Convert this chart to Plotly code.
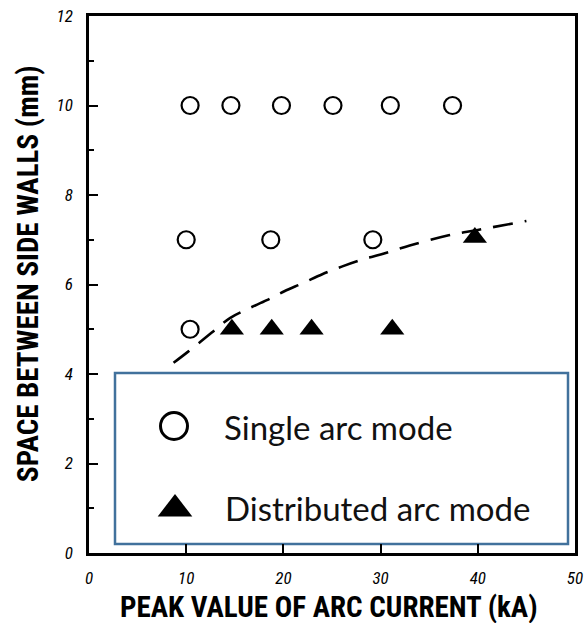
import plotly.graph_objects as go

# ---- data ----
single_x = [10.4, 14.6, 19.8, 25.1, 31.0, 37.4, 10.0, 18.7, 29.2, 10.4]
single_y = [10, 10, 10, 10, 10, 10, 7, 7, 7, 5]
dist_x = [14.7, 18.8, 22.9, 31.2, 39.7]
dist_y = [5, 5, 5, 5, 7.05]
curve_x = [8.7, 10.2, 12.6, 14.5, 16.3, 18.3, 20.1, 22.0, 24.0, 26.0, 28.0, 30.0, 33.0, 37.0, 40.0, 45.0]
curve_y = [4.25, 4.5, 4.92, 5.25, 5.45, 5.65, 5.85, 6.03, 6.23, 6.4, 6.55, 6.67, 6.87, 7.1, 7.22, 7.42]
x_ticks = [0, 10, 20, 30, 40, 50]
y_ticks = [0, 2, 4, 6, 8, 10, 12]
legend_labels = ["Single arc mode", "Distributed arc mode"]
x_title = "PEAK VALUE OF ARC CURRENT (kA)"
y_title = "SPACE BETWEEN SIDE WALLS (mm)"

W, H = 584, 623
L, R, T, B = 89, 575, 16, 553

title_font = dict(family="Roboto Condensed, DejaVu Sans Condensed, sans-serif", size=29, color="black", weight="bold")
tick_font = dict(family="Roboto Condensed, DejaVu Sans Condensed, sans-serif", size=17, color="black", style="italic")
leg_font = dict(family="Lato, Open Sans, sans-serif", size=33, color="#111")

fig = go.Figure()
fig.add_trace(go.Scatter(x=curve_x, y=curve_y, mode="lines", line=dict(color="black", width=2.6, dash="20px,12px", shape="spline"),
                         showlegend=False, hoverinfo="skip"))
fig.add_trace(go.Scatter(x=single_x, y=single_y, mode="markers", name=legend_labels[0],
                         marker=dict(symbol="circle-open", size=17, color="black", line=dict(width=2.2, color="black")),
                         showlegend=False))
fig.add_trace(go.Scatter(x=dist_x, y=dist_y, mode="markers", name=legend_labels[1],
                         marker=dict(symbol="triangle-up", size=21, color="black"), showlegend=False))

# legend keys on an overlay axis (pixel-like frame)
fig.add_trace(go.Scatter(x=[174], y=[H - 426], xaxis="x2", yaxis="y2", mode="markers",
                         marker=dict(symbol="circle-open", size=27, color="black", line=dict(width=3, color="black")),
                         showlegend=False, hoverinfo="skip"))
fig.add_trace(go.Scatter(x=[175], y=[H - 509], xaxis="x2", yaxis="y2", mode="markers",
                         marker=dict(symbol="triangle-up", size=30, color="black"),
                         showlegend=False, hoverinfo="skip"))

axis_common = dict(showline=True, linecolor="black", linewidth=2.6, mirror=True, showgrid=False, zeroline=False,
                   ticks="inside", tickcolor="black", tickwidth=2, ticklen=9, tickfont=tick_font, automargin=False)

fig.update_layout(
    width=W, height=H,
    margin=dict(l=L, r=W - R, t=T, b=H - B, autoexpand=False),
    paper_bgcolor="white", plot_bgcolor="white",
    xaxis=dict(range=[0, 50], tickvals=x_ticks, ticklabelstandoff=8, **axis_common),
    yaxis=dict(range=[0, 12], tickvals=y_ticks, ticklabelstandoff=10,
               minor=dict(dtick=1, ticks="inside", ticklen=5, tickwidth=2, tickcolor="black"), **axis_common),
    xaxis2=dict(range=[L, R], overlaying="x", visible=False, fixedrange=True),
    yaxis2=dict(range=[H - B, H - T], overlaying="y", visible=False, fixedrange=True),
    shapes=[dict(type="rect", xref="x2", yref="y2", x0=115, x1=568, y0=H - 544, y1=H - 373,
                 line=dict(color="#41719c", width=2.5), fillcolor="white", layer="below")],
    annotations=[
        dict(text=legend_labels[0], xref="x2", yref="y2", x=222, y=H - 427, xanchor="left", yanchor="middle",
             showarrow=False, font=leg_font),
        dict(text=legend_labels[1], xref="x2", yref="y2", x=223, y=H - 508, xanchor="left", yanchor="middle",
             showarrow=False, font=leg_font),
        dict(text=x_title, xref="paper", yref="paper", x=(329 - L) / (R - L), y=-(607 - B) / (B - T),
             xanchor="center", yanchor="middle", showarrow=False, font=title_font),
        dict(text=y_title, xref="paper", yref="paper", x=(28 - L) / (R - L), y=(B - 274) / (B - T),
             xanchor="center", yanchor="middle", textangle=-90, showarrow=False, font=title_font),
    ],
)

fig.write_html("out.html", config={"displayModeBar": False},
               post_script="document.body.style.margin='0';document.body.style.overflow='hidden';")
